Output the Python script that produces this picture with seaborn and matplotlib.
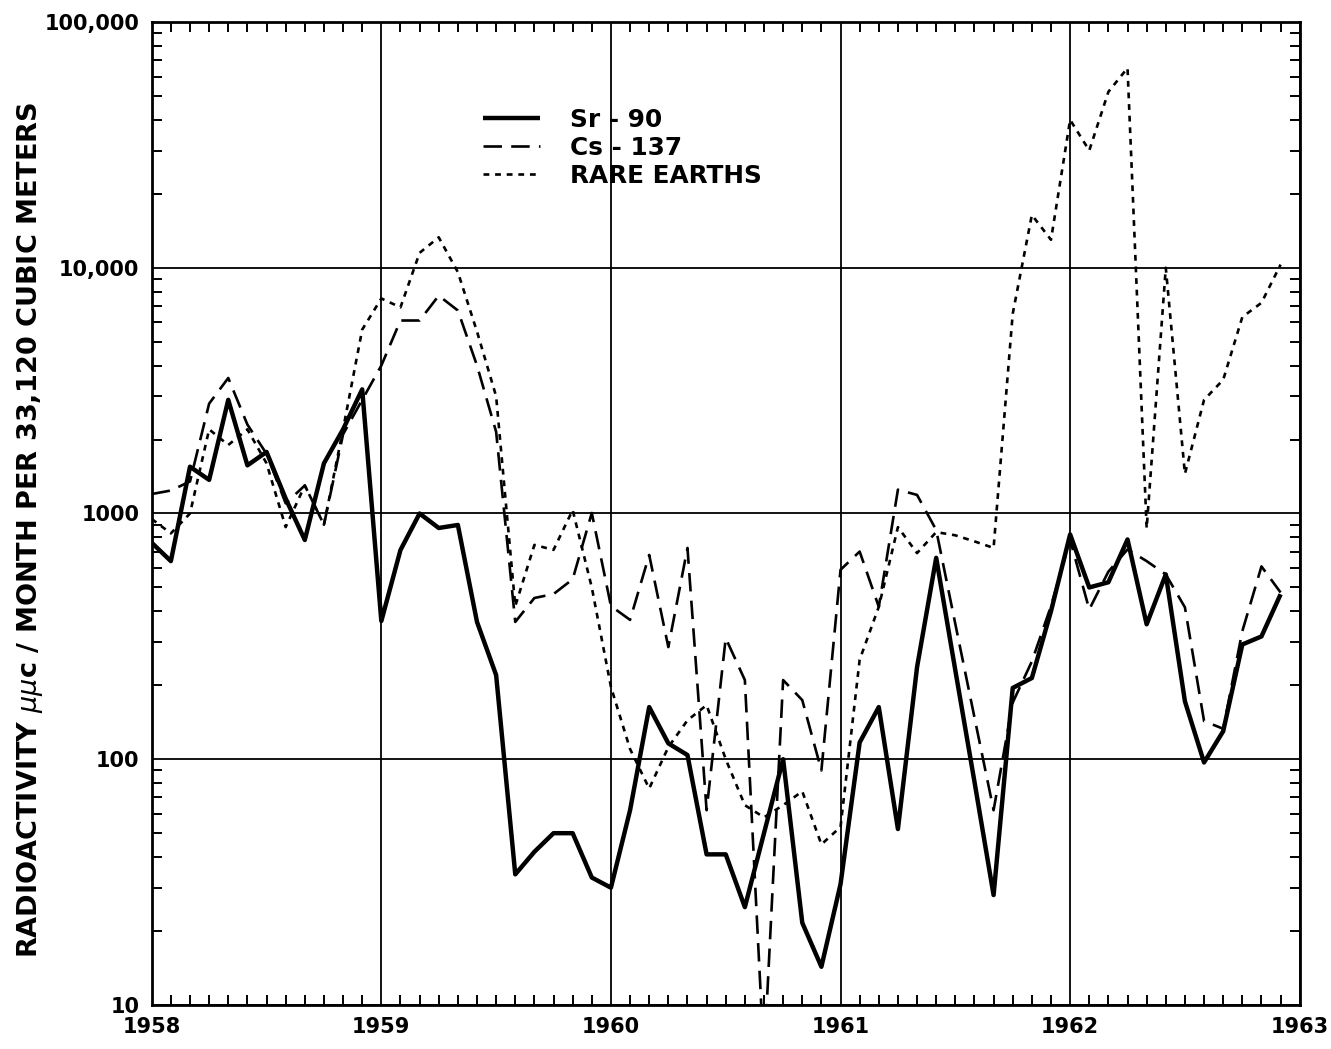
import numpy as np
import pandas as pd
import matplotlib
matplotlib.use("Agg")
import matplotlib.pyplot as plt
import matplotlib.ticker as mticker
import seaborn as sns

sns.set_style("ticks")
plt.rcParams['font.family'] = ['DejaVu Sans']
plt.rcParams['text.color'] = 'black'
plt.rcParams['axes.labelcolor'] = 'black'
plt.rcParams['xtick.color'] = 'black'
plt.rcParams['ytick.color'] = 'black'

# monthly values, Jan 1958 .. Dec 1962
months = np.arange(60)
sr90 = [760, 640, 1550, 1370, 2900, 1570, 1780, 1150, 780, 1600, 2200, 3200,
        365, 710, 1000, 873, 898, 362, 220, 34, 42, 50, 50, 33,
        30, 62, 163, 116, 104, 41, 41, 25, 50, 100, 21.6, 14.3,
        31, 117, 163, 52, 237, 660, 230, 81, 28, 195, 214, 400,
        822, 500, 525, 784, 354, 565, 172, 97, 130, 293, 316, 469]
cs137 = [1200, 1240, 1350, 2800, 3560, 2300, 1750, 1100, 1300, 900, 2100, 2900,
         4000, 6100, 6100, 7700, 6700, 4000, 2150, 362, 453, 470, 540, 1005,
         420, 369, 678, 286, 724, 62, 311, 210, 6, 210, 174, 90,
         590, 700, 417, 1250, 1190, 857, 355, 148, 62, 170, 250, 420,
         780, 407, 580, 714, 640, 565, 415, 143, 133, 332, 609, 477]
rare_earths = [950, 830, 1000, 2200, 1900, 2200, 1600, 880, 1300, 900, 2200, 5600,
               7500, 6900, 11500, 13300, 9600, 5500, 3000, 420, 745, 711, 1033, 500,
               197, 110, 76, 112, 144, 166, 100, 65, 58, 65, 74, 45,
               53, 254, 417, 880, 690, 840, 815, 770, 724, 6500, 16400, 13000,
               40000, 30000, 52000, 65000, 870, 10000, 1450, 2900, 3500, 6300, 7200, 10300]

year_labels = ["1958", "1959", "1960", "1961", "1962", "1963"]
y_ticks = [10, 100, 1000, 10000, 100000]
y_labels = ["10", "100", "1000", "10,000", "100,000"]

df = pd.DataFrame({
    "year": 1958 + months / 12.0,
    "Sr - 90": sr90,
    "Cs - 137": cs137,
    "RARE EARTHS": rare_earths,
})
long = df.melt(id_vars="year", var_name="nuclide", value_name="activity")

styles = {
    "Sr - 90": dict(lw=3.2, dashes=None),
    "Cs - 137": dict(lw=1.9, dashes=(7, 3.5)),
    "RARE EARTHS": dict(lw=1.9, dashes=(2.2, 2.2)),
}

fig = plt.figure(figsize=(13.31, 10.49), dpi=100)
ax = fig.add_axes([0.114, 0.042, 0.8625, 0.937])

for name, st in styles.items():
    sub = long[long["nuclide"] == name]
    sns.lineplot(data=sub, x="year", y="activity", ax=ax, color="black",
                 linewidth=st["lw"], label=name, estimator=None)
    line = ax.get_lines()[-1]
    if st["dashes"] is not None:
        line.set_dashes(st["dashes"])
    line.set_solid_capstyle("butt")

ax.set_yscale("log")
ax.set_ylim(10, 100000)
ax.set_xlim(1958, 1963)

ax.set_yticks(y_ticks)
ax.set_yticklabels(y_labels)
ax.yaxis.set_minor_locator(mticker.LogLocator(base=10, subs=np.arange(2, 10)))
ax.yaxis.set_minor_formatter(mticker.NullFormatter())
ax.set_xticks(np.arange(1958, 1964))
ax.set_xticklabels(year_labels)
ax.xaxis.set_minor_locator(mticker.MultipleLocator(1 / 12))

ax.grid(True, which="major", color="black", linewidth=1.3)
ax.tick_params(which="major", length=0, labelsize=15)
ax.tick_params(axis="x", which="major", pad=9)
ax.tick_params(axis="y", which="major", pad=9)
ax.tick_params(which="minor", direction="in", length=7, width=1.4,
               top=True, right=True, bottom=True, left=True)
for lab in ax.get_xticklabels() + ax.get_yticklabels():
    lab.set_fontweight("bold")
for sp in ax.spines.values():
    sp.set_linewidth(2.0)
    sp.set_color("black")

ax.set_xlabel("")
ax.set_ylabel("RADIOACTIVITY $\\mu\\mu$c / MONTH PER 33,120 CUBIC METERS",
              fontsize=19.5, fontweight="bold")
ax.yaxis.set_label_coords(-0.093, 0.483)

leg = ax.legend(loc="upper left", bbox_to_anchor=(0.278, 0.925), frameon=False,
                fontsize=17.8, handlelength=2.3, handletextpad=1.2,
                labelspacing=0.15, borderpad=0)
for t in leg.get_texts():
    t.set_fontweight("bold")

fig.savefig("out.png", dpi=100)
